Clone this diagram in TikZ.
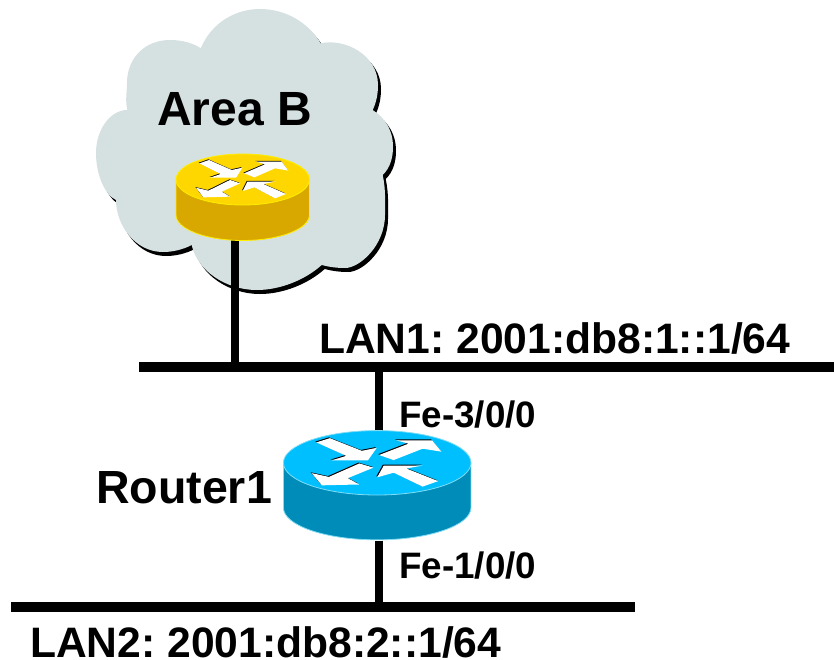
\documentclass[tikz,border=0pt]{standalone}
\usepackage{fontspec}
\setmainfont{Liberation Sans}[BoldFont={Liberation Sans Bold}]
\definecolor{cloudc}{HTML}{D5E0E0}
\definecolor{ytop}{HTML}{FFD700}
\definecolor{yside}{HTML}{D9A800}
\definecolor{yedge}{HTML}{FFEE00}
\definecolor{btop}{HTML}{00BFFF}
\definecolor{bside}{HTML}{008CB8}
\definecolor{bedge}{HTML}{80DDF5}
\newcommand{\cloudpath}{(200.7,48.3)
 .. controls (212,22) and (236,9) .. (260,9)
 .. controls (285,9) and (308,22) .. (320.7,43.3)
 .. controls (345,38) and (378,55) .. (378,85)
 .. controls (378,95) and (376,103) .. (372.7,110)
 .. controls (385,118) and (393,130) .. (393,147)
 .. controls (393,158) and (390,168) .. (382.7,175)
 .. controls (386,190) and (385,205) .. (385,215)
 .. controls (385,245) and (360,268) .. (345,268)
 .. controls (333,268) and (326,266) .. (321.7,265)
 .. controls (305,280) and (280,290) .. (257,290)
 .. controls (225,290) and (197,270) .. (191.7,245)
 .. controls (182,250) and (172,252) .. (163,252)
 .. controls (135,252) and (116,225) .. (116,200)
 .. controls (105,195) and (96,175) .. (96,153)
 .. controls (96,130) and (110,110) .. (127.3,110)
 .. controls (125,100) and (127,92) .. (127,83)
 .. controls (127,58) and (145,40) .. (170,40)
 .. controls (182,40) and (193,43) .. (200.7,48.3) -- cycle}
\newcommand{\arrowset}{
 (118,70) -- (147,60) -- (215,90) -- (247,83) -- (228,113) -- (150,113) -- (182,102) -- cycle
 (252,100) -- (315,73) -- (288,65) -- (365,65) -- (385,92) -- (345,85) -- (283,112) -- cycle
 (108,143) -- (145,152) -- (210,120) -- (240,130) -- (185,155) -- (210,170) -- (130,172) -- cycle
 (248,153) -- (262,125) -- (345,125) -- (310,132) -- (378,162) -- (345,175) -- (283,142) -- cycle}
\tikzset{
 x=1pt,y=-1pt,
 lbl/.style={font=\frenchspacing\bfseries\fontsize{36.8}{40}\selectfont,anchor=base west,inner sep=0pt,text=black,text depth=0pt},
 lanlbl/.style={lbl,font=\frenchspacing\bfseries\fontsize{42.6}{46}\selectfont},
 biglbl/.style={lbl,font=\frenchspacing\bfseries\fontsize{46.5}{50}\selectfont},
 arealbl/.style={lbl,font=\frenchspacing\bfseries\fontsize{48}{52}\selectfont},
 bus/.style={fill=black,inner sep=0pt,minimum height=10.6pt},
 conn/.style={line width=8.3pt,draw=black},
 slot/.style={inner sep=0pt,outer sep=0pt},
 pics/router/.style n args={3}{code={
  \path[fill=#2,draw=#3,line width=0.8pt] (-66.7,0) -- (-66.7,35.5)
    .. controls (-66.7,49.6) and (-36.8,61) .. (0,61)
    .. controls (36.8,61) and (66.7,49.6) .. (66.7,35.5) -- (66.7,0) -- cycle;
  \path[fill=#1,draw=#3,line width=0.8pt] (-66.7,0)
    .. controls (-66.7,-14.1) and (-36.8,-25.5) .. (0,-25.5)
    .. controls (36.8,-25.5) and (66.7,-14.1) .. (66.7,0)
    .. controls (66.7,14.1) and (36.8,25.5) .. (0,25.5)
    .. controls (-36.8,25.5) and (-66.7,14.1) .. (-66.7,0) -- cycle;
  \begin{scope}[xscale=1/3,yscale=1/3,shift={(-248,-118.5)}]
   \fill[black] [shift={(-2,-2)}] \arrowset;
   \fill[white] \arrowset;
  \end{scope}
 }}
}
\begin{document}
\begin{tikzpicture}
\useasboundingbox (0,0) rectangle (834,660);
\fill[black] [shift={(3,4)}] \cloudpath;
\fill[cloudc] \cloudpath;
% named placeholders
\node[slot,minimum width=133.4pt,minimum height=86pt] (yr) at (242.7,197) {};
\node[slot,minimum width=187.6pt,minimum height=110pt] (br) at (377.2,485.6) {};
\node[bus,minimum width=695pt] (lan1) at (486.5,367) {};
\node[bus,minimum width=624pt] (lan2) at (323,607) {};
% connectors
\draw[conn] ([xshift=-7.7pt]yr.south) -- ([xshift=-7.7pt]yr.south |- lan1.center);
\draw[conn] ([xshift=2pt]br.north |- lan1.center) -- ([xshift=2pt]br.north);
\draw[conn] ([xshift=2pt]br.south) -- ([xshift=2pt]br.south |- lan2.center);
% routers
\pic at (242.7,179.5) {router={ytop}{yside}{yedge}};
\pic[xscale=1.406,yscale=1.263] at (377.2,462.8) {router={btop}{bside}{bedge}};
% labels
\node[arealbl] (areab) at (157,126) {Area B};
\node[lanlbl] (l1) at (319,353) {LAN1: 2001:db8:1::1/64};
\node[lbl] (f3) at (399,427) {Fe-3/0/0};
\node[biglbl] (r1) at (96,503) {Router1};
\node[lbl] (f1) at (399,578) {Fe-1/0/0};
\node[lanlbl] (l2) at (30,657) {LAN2: 2001:db8:2::1/64};
\end{tikzpicture}
\end{document}
